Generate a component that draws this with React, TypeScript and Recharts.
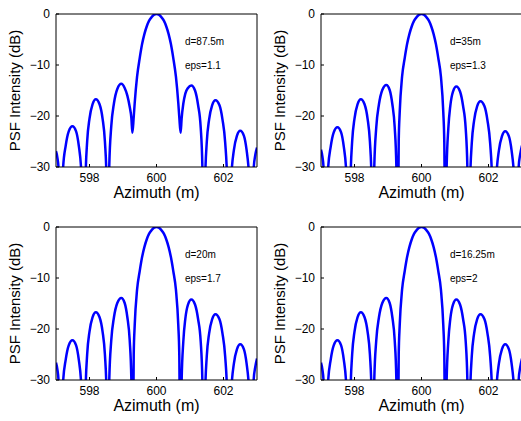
import React from "react";
import { LineChart, Line, XAxis, YAxis, ReferenceDot } from "recharts";

// sample positions along azimuth (m), denser around lobes and nulls
const azimuth = [
  597.0, 597.04, 597.08, 597.12,
  597.16, 597.21, 597.29, 597.38, 597.49, 597.6, 597.68, 597.75, 597.8,
  597.84,
  597.88, 597.93, 598.0, 598.09, 598.19, 598.3, 598.39, 598.46, 598.51,
  598.55,
  598.59, 598.65, 598.73, 598.83, 598.95, 599.05, 599.13, 599.2, 599.25,
  599.28,
  599.32, 599.35, 599.42, 599.5, 599.57, 599.64, 599.71, 599.78, 599.86, 599.93, 600.0,
  600.07, 600.14, 600.22, 600.29, 600.36, 600.43, 600.5, 600.58, 600.65, 600.68,
  600.72,
  600.75, 600.8, 600.86, 600.94, 601.04, 601.15, 601.24, 601.32, 601.37,
  601.41,
  601.45, 601.5, 601.57, 601.66, 601.76, 601.88, 601.97, 602.05, 602.11,
  602.15,
  602.19, 602.24, 602.31, 602.4, 602.5, 602.61, 602.69, 602.76, 602.82,
  602.85,
  602.9, 602.95, 603.0,
];

// PSF intensity (dB), d=87.5m, eps=1.1 -> first nulls filled in
const psfD875 = [
  -26.9, -28.1, -30.6, -60,
  -38.1, -30.3, -25.8, -23.0, -22.0, -23.0, -25.8, -30.3, -38.1,
  -60,
  -32.8, -25.0, -20.5, -17.7, -16.7, -17.7, -20.5, -25.0, -32.8,
  -60,
  -29.8, -22.0, -17.5, -14.7, -13.7, -14.5, -16.0, -18.2, -20.4,
  -23.3,
  -20.2, -17.4, -12.3, -8.6, -5.9, -3.9, -2.4, -1.3, -0.57, -0.14, 0,
  -0.14, -0.57, -1.3, -2.4, -3.9, -5.9, -8.6, -12.3, -17.4, -20.2,
  -23.3,
  -20.5, -17.6, -15.6, -14.5, -14.0, -15.0, -17.8, -22.3, -30.1,
  -60,
  -33.0, -25.2, -20.7, -17.9, -16.9, -17.9, -20.7, -25.2, -33.0,
  -60,
  -39.0, -31.2, -26.7, -23.9, -22.9, -23.9, -26.7, -31.2, -39.0,
  -60,
  -30.3, -27.6, -26.2,
];

// d=35m, eps=1.3
const psfD35 = [
  -26.6, -27.9, -30.5, -60,
  -38.3, -30.5, -26.0, -23.2, -22.2, -23.2, -26.0, -30.5, -38.3,
  -60,
  -32.8, -25.0, -20.5, -17.7, -16.7, -17.7, -20.5, -25.0, -32.8,
  -60,
  -30.0, -22.2, -17.7, -14.9, -13.9, -14.9, -17.7, -22.2, -30.0,
  -60,
  -25.0, -19.2, -12.3, -8.6, -5.9, -3.9, -2.4, -1.3, -0.57, -0.14, 0,
  -0.14, -0.57, -1.3, -2.4, -3.9, -5.9, -8.6, -12.3, -19.2, -25.0,
  -60,
  -30.3, -22.5, -18.0, -15.2, -14.2, -15.2, -18.0, -22.5, -30.3,
  -60,
  -33.2, -25.4, -20.9, -18.1, -17.1, -18.1, -20.9, -25.4, -33.2,
  -60,
  -39.1, -31.3, -26.8, -24.0, -23.0, -24.0, -26.8, -31.3, -39.1,
  -60,
  -30.0, -27.4, -25.8,
];

// d=20m and d=16.25m read the same as d=35m at this resolution
const psfD20 = psfD35;
const psfD1625 = psfD35;

const xTicks = [598, 600, 602];
const yTicks = [-30, -20, -10, 0];

const FONT = '"Liberation Sans", Arial, Helvetica, sans-serif';
const BLUE = "#0000ff";

const fmt = (v: number) => (v < 0 ? `\u2212${Math.abs(v)}` : String(v));

// plain left-aligned text at a data point (MATLAB text() style)
const noteShape = (text: string) => (p: { cx?: number; cy?: number }) => (
  <text x={p.cx} y={p.cy} dy="0.36em" fill="#000" fontSize={10} fontFamily={FONT} style={{ textAnchor: "start" }}>
    {text}
  </text>
);

interface PanelProps {
  left: number;
  top: number;
  values: number[];
  dLabel: string;
  epsLabel: string;
}

function PsfPanel({ left, top, values, dLabel, epsLabel }: PanelProps) {
  const data = azimuth.map((x, i) => ({ x, y: values[i] }));
  const axisStroke = { stroke: "#000" };
  return (
    <div style={{ position: "absolute", left, top }}>
      <LineChart width={260} height={210} data={data} margin={{ top: 13, right: 2, left: 0, bottom: 0 }} style={{ fontFamily: FONT }}>
        <XAxis
          dataKey="x" type="number" domain={[597, 603]} ticks={xTicks} allowDataOverflow
          height={43} tickSize={-3} tickMargin={9}
          tick={{ fill: "#000", fontSize: 12 }} axisLine={axisStroke} tickLine={axisStroke}
          label={{ value: "Azimuth (m)", position: "insideBottom", offset: 12, fill: "#000", fontSize: 16 }}
        />
        <XAxis
          xAxisId="top" orientation="top" dataKey="x" type="number" domain={[597, 603]} ticks={xTicks} allowDataOverflow
          height={1} tickSize={-3} tick={false} axisLine={axisStroke} tickLine={axisStroke}
        />
        <YAxis
          type="number" domain={[-30, 0]} ticks={yTicks} allowDataOverflow
          width={56} tickSize={-3} tickMargin={9} tickFormatter={fmt}
          tick={{ fill: "#000", fontSize: 12 }} axisLine={axisStroke} tickLine={axisStroke}
          label={{ value: "PSF Intensity (dB)", angle: -90, position: "insideLeft", offset: 15, fill: "#000", fontSize: 15, style: { textAnchor: "middle" } }}
        />
        <YAxis
          yAxisId="right" orientation="right" type="number" domain={[-30, 0]} ticks={yTicks} allowDataOverflow
          width={1} tickSize={-3} tick={false} axisLine={axisStroke} tickLine={axisStroke}
        />
        <ReferenceDot x={600.85} y={-5.3} r={0} shape={noteShape(dLabel)} />
        <ReferenceDot x={600.85} y={-10} r={0} shape={noteShape(epsLabel)} />
        <Line dataKey="y" type="monotone" stroke={BLUE} strokeWidth={2.5} dot={false} isAnimationActive={false} />
      </LineChart>
    </div>
  );
}

export default function App() {
  return (
    <div style={{ position: "absolute", left: 0, top: 0, width: 521, height: 421, overflow: "hidden", background: "#fff" }}>
      <PsfPanel left={0} top={0} values={psfD875} dLabel="d=87.5m" epsLabel="eps=1.1" />
      <PsfPanel left={265} top={0} values={psfD35} dLabel="d=35m" epsLabel="eps=1.3" />
      <PsfPanel left={0} top={213} values={psfD20} dLabel="d=20m" epsLabel="eps=1.7" />
      <PsfPanel left={265} top={213} values={psfD1625} dLabel="d=16.25m" epsLabel="eps=2" />
    </div>
  );
}
